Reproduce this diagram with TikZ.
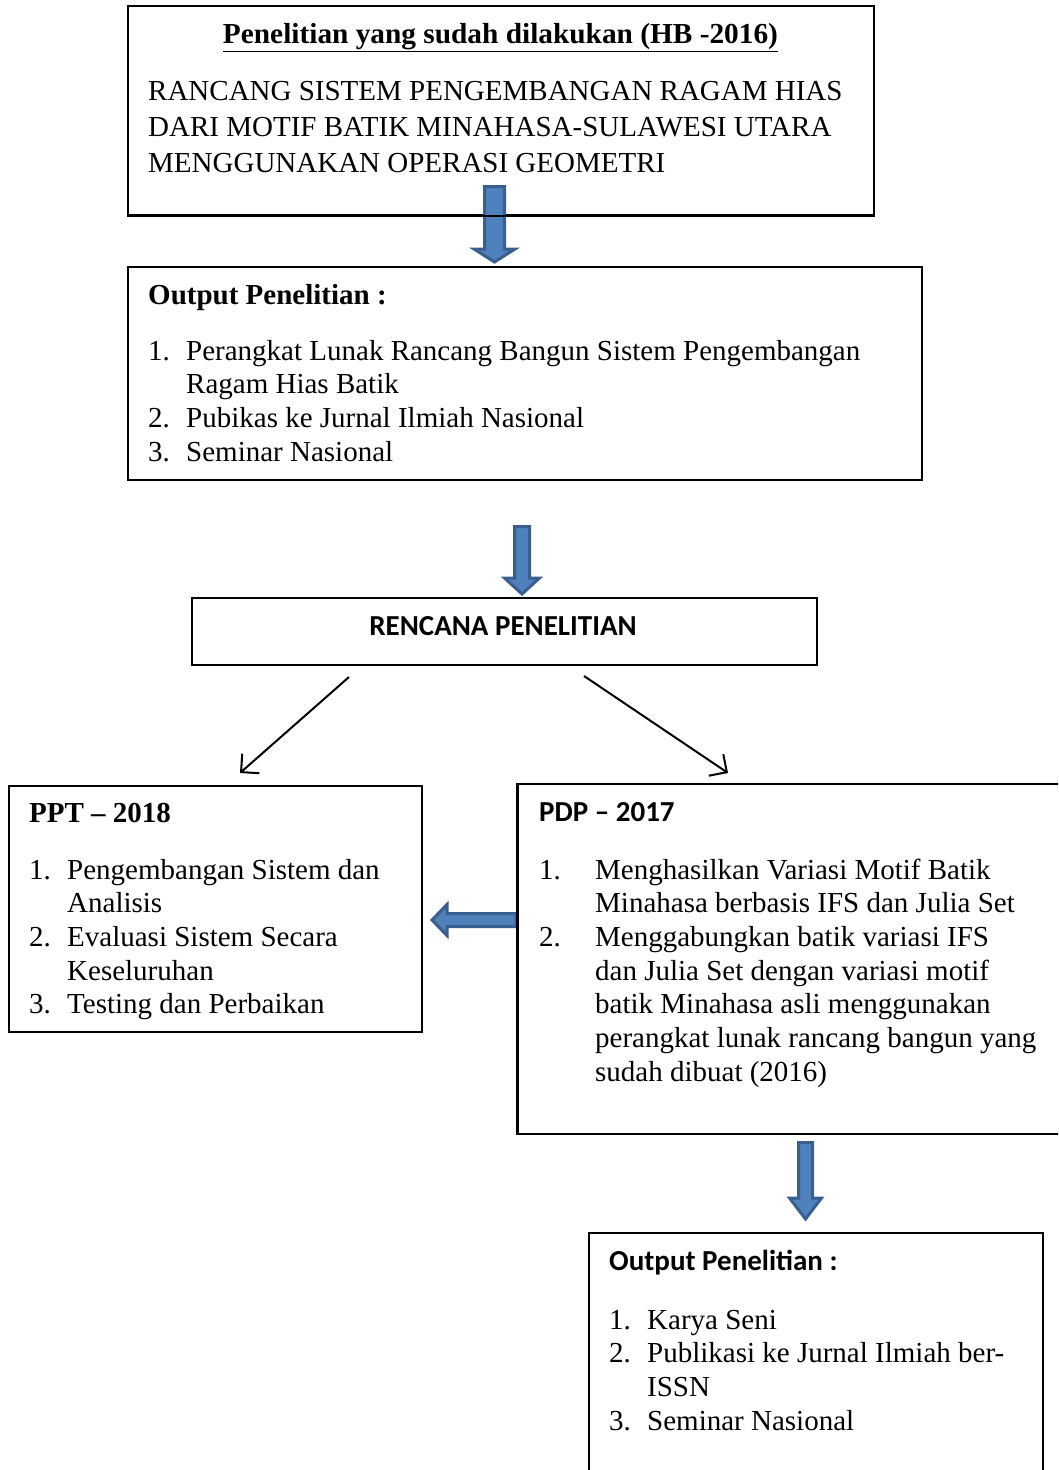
\documentclass[tikz,border=0pt]{standalone}
\usepackage{fontspec}
\setmainfont{Liberation Serif}
\newfontfamily\calfont{Carlito}
\usepackage{graphicx}
\usetikzlibrary{arrows.meta}
\definecolor{arrfill}{HTML}{4F81BD}
\definecolor{arrdraw}{HTML}{3A5F8F}
\tikzset{
  box/.style={draw, line width=2pt, anchor=north west, inner sep=0pt, fill=white},
  txt/.style={inner sep=0pt, anchor=base west, align=left, font=\fontsize{29}{33.7}\selectfont},
  hdsans/.style={inner sep=0pt, anchor=base west, font=\calfont\bfseries\fontsize{29}{34}\selectfont},
  hdserif/.style={inner sep=0pt, anchor=base west, font=\bfseries\fontsize{29}{33.7}\selectfont},
  blockarrow/.style={fill=arrfill, draw=arrdraw, line width=3pt, line join=miter},
  thinarrow/.style={line width=2pt, -{Straight Barb[length=13pt, width=26pt, line width=2pt]}}
}
% down block arrow: cx, ytop, yhead, ytip, half shaft, half head
\newcommand\bdown[6]{%
  \draw[blockarrow] ({#1-#5},#2) -- ({#1+#5},#2) -- ({#1+#5},#3) -- ({#1+#6},#3) -- (#1,#4)
    -- ({#1-#6},#3) -- ({#1-#5},#3) -- cycle;}
\begin{document}
\begin{tikzpicture}[x=1pt, y=-1pt]
\useasboundingbox (0,0) rectangle (1058,1470);
\clip (0,0) rectangle (1058,1470);

% boxes
\node[box, minimum width=746pt, minimum height=209pt] (hb) at (127,5) {};
\node[box, minimum width=794pt, minimum height=213pt] (out1) at (127,266) {};

% block arrow hb -> out1
\bdown{494.5}{186.5}{249}{262}{10}{20.5}
\draw[line width=2pt] (hb.south west) -- (hb.south east);

\node[box, minimum width=625pt, minimum height=67pt] (ren) at (191,597) {};
\bdown{522}{526.5}{578}{594}{7.5}{17.5}

\node[box, minimum width=413pt, minimum height=246pt] (ppt) at (8,785) {};
\node[box, minimum width=600pt, minimum height=350pt] (pdp) at (517,783) {};
\node[box, minimum width=454pt, minimum height=280pt] (out2) at (588,1232) {};

% left block arrow pdp -> ppt
\draw[blockarrow] (516,913.5) -- (447,913.5) -- (447,904.5) -- (432,920) -- (447,935.5) -- (447,926.5) -- (516,926.5) -- cycle;
\draw[line width=2pt] (pdp.north west) -- (pdp.south west);

% down block arrow pdp -> out2
\bdown{805.5}{1142.5}{1198}{1219}{7}{16}

% thin arrows
\coordinate (r1) at (349,677);
\coordinate (p1) at (240,773);
\coordinate (r2) at (584,676);
\coordinate (p2) at (728,773);
\draw[thinarrow] (r1) -- (p1);
\draw[thinarrow] (r2) -- (p2);

% texts: top box
\node[inner sep=0pt, anchor=base] (title) at (500.5,43)
  {\resizebox{555pt}{\height}{\bfseries\fontsize{29}{33}\selectfont\underline{Penelitian yang sudah dilakukan (HB -2016)}}};
\node[txt, font=\fontsize{29}{36}\selectfont] (hbtext) at (148,100.5)
  {\begin{tabular}[t]{@{}l@{}}RANCANG SISTEM PENGEMBANGAN RAGAM HIAS\\DARI MOTIF BATIK MINAHASA-SULAWESI UTARA\\MENGGUNAKAN OPERASI GEOMETRI\end{tabular}};

% output 1
\node[hdserif] (out1h) at (148,304) {Output Penelitian :};
\node[txt] (out1l) at (148,360)
  {\begin{tabular}[t]{@{}p{38pt}@{}l@{}}1.&Perangkat Lunak Rancang Bangun Sistem Pengembangan\\&Ragam Hias Batik\\2.&Pubikas ke Jurnal Ilmiah Nasional\\3.&Seminar Nasional\end{tabular}};

% rencana
\node[inner sep=0pt, anchor=base, font=\calfont\bfseries\fontsize{29}{34}\selectfont] (rent) at (503,635) {RENCANA PENELITIAN};

% ppt
\node[hdserif] (ppth) at (29,822) {PPT – 2018};
\node[txt] (pptl) at (29,879)
  {\begin{tabular}[t]{@{}p{38pt}@{}l@{}}1.&Pengembangan Sistem dan\\&Analisis\\2.&Evaluasi Sistem Secara\\&Keseluruhan\\3.&Testing dan Perbaikan\end{tabular}};

% pdp
\node[hdsans] (pdph) at (539,821) {PDP – 2017};
\node[txt] (pdpl) at (539,879)
  {\begin{tabular}[t]{@{}p{56pt}@{}l@{}}1.&Menghasilkan Variasi Motif Batik\\&Minahasa berbasis IFS dan Julia Set\\2.&Menggabungkan batik variasi IFS\\&dan Julia Set dengan variasi motif\\&batik Minahasa asli menggunakan\\&perangkat lunak rancang bangun yang\\&sudah dibuat (2016)\end{tabular}};

% output 2
\node[hdsans] (out2h) at (609,1270) {Output Penelitian :};
\node[txt] (out2l) at (609,1329)
  {\begin{tabular}[t]{@{}p{38pt}@{}l@{}}1.&Karya Seni\\2.&Publikasi ke Jurnal Ilmiah ber-\\&ISSN\\3.&Seminar Nasional\end{tabular}};
\end{tikzpicture}
\end{document}
